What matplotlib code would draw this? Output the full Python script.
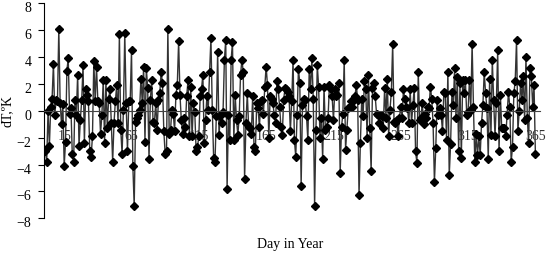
import numpy as np
import matplotlib
matplotlib.use("Agg")
import matplotlib.pyplot as plt
import matplotlib.transforms as mtransforms

# daily temperature deviation dT (K), day 1..365
seg_a = [-3.0, -3.8, 0.0, -2.6, 0.3, 0.9, 3.5, -0.3, 0.8, 0.7, 6.1, 0.6, -1.0, 0.5,
         -4.1, -2.3, 3.0, 3.9, -0.2, 0.2, -3.2, -3.8, 0.8, -0.3, 2.7, -2.6, -0.7, 0.8,
         3.4, -2.4, 1.6, 1.2, 0.7, -3.0, -3.4, -1.9, 3.7, 0.7, 3.3]
seg_b = [0.7, 0.6, -1.7, -0.3, 2.3, -2.4, 2.3, -1.3, 0.9, 1.6, -0.9, -3.8, -0.9, 0.7,
         1.9, -0.9, 5.7, -1.4, -3.2, 0.1, 5.8, 0.6, -3.0, 0.7, 0.7, 4.5, -4.1, -7.1,
         -0.8, -0.5, -0.3, 0.1, 2.4, 0.6, 3.3, -2.3, 3.2, 1.7, -3.6, 0.8, 2.3, -0.8,
         -0.9, 0.6, -1.4, 0.8, 1.3, 2.9, 2.1, -1.5, -3.2, -3.0, 6.1, -1.7, -1.4, 0.1,
         -0.2, -1.5, 1.2, 1.9, 5.2, 1.2, -0.7, -1.7, -0.5, -1.2, 1.1, 2.3, -1.9, 1.8]
seg_c = [-1.9, 0.6, -0.1, -3.0, -2.7, -1.9, 1.1, 1.6, 2.7, -2.4, -0.7, 1.1, 0.1, 2.9,
         5.4, 0.1, -3.5, -3.8, -0.4, 4.4, -1.8, -0.4, -0.9, -0.05, 3.8, 5.3, -5.8, -0.3,
         -2.2, 3.8, 5.1, -2.2, 1.2, -0.7, -1.8, -0.4, 2.7, 3.8, 2.9, -5.1, -0.9, 1.3,
         -1.2, -1.3, -1.7, 1.1, -2.7, -3.0, 0.6, 0.2, -1.2, 0.7, 0.8, -0.2, 1.8, 3.3,
         1.9, -2.0, 1.1, 0.9, 0.6, -0.3, -0.9, 2.2, 1.6, 0.3, -1.2]
seg_d = [-1.8, 0.8, 1.7, 1.6, 1.4, 1.1, -1.5, 0.7, 3.8, -2.2, -3.4, -0.3, 3.1, 2.1,
         -5.6, 0.4, 0.9, 0.8, -0.4, -2.2, 3.1, 1.6, 3.9, 0.9, -7.1, -1.4, 3.4, 1.8,
         -2.0, -0.5, -3.6, 1.8, -1.4, -1.2, -0.5, 1.9, 1.6, 1.1, -0.7, 1.6, 1.1, 1.2,
         2.1, -4.6, -1.2, -0.2, 3.8, -2.9, -1.4, 0.2, 0.3, 0.7, 0.3, 0.8, 1.1, 1.9,
         0.8, -6.3, -2.4, 0.9, -0.4, 2.2, 1.6, -2.0, 2.7, -1.3, -4.5]
seg_e = [1.7, 2.1, 1.1, -0.2, -0.3, -0.9, -0.3, -0.4, -1.3, 1.7, -0.5, 2.4, -1.9, 0.1,
         1.4, 5.0, -0.8, -0.9, -0.7, -1.9, -0.5, 0.3, -0.5, 1.6, 0.9, 0.3, 0.2, -0.9,
         1.6, -0.9, 0.4, 1.7, -3.0, -3.9, 2.9, -0.7, -0.5, 0.6, -1.0, -0.2, -0.5, 0.3,
         0.2, 1.8, 0.9, -0.9, -5.3, -2.8, 0.8, -0.3, 0.2, -0.3, -1.5, 1.4, 1.3, -2.2,
         2.9, -4.8, -2.5, 1.4, 0.4, 3.2, -0.5, 2.5]
seg_f = [-3.0, 2.1, -3.5, 2.3, 1.3, 2.3, -0.3, -0.05, 2.3, 0.1, 5.0, 0.3, -3.8, -1.7,
         -3.3, -1.9, -3.3, -0.9, 0.4, 2.9, 1.3, 0.2, -3.6, 2.4, -1.8, 3.8, 0.8, -1.9,
         0.6, 4.5, -3.0, 1.2, -1.3, -1.3, -1.3, -1.9, -0.3, 1.4, 0.3, -3.8, -2.7, 1.3,
         2.2, 5.3, -1.5, 0.0, 2.1, 0.8, 2.6, -0.7, 4.0, -0.5, -2.4, 3.2, 2.6, 0.3,
         1.9, -3.2]

dT = seg_a + seg_b + seg_c + seg_d + seg_e + seg_f
days = np.arange(1, len(dT) + 1)

x_ticks = [15, 65, 115, 165, 215, 265, 315, 365]
y_ticks = [-8, -6, -4, -2, 0, 2, 4, 6, 8]

plt.rcParams['font.family'] = ['Liberation Serif', 'DejaVu Serif']

fig = plt.figure(figsize=(5.5, 2.59), dpi=100)
ax = fig.add_axes([0.08, 0.157, 0.902, 0.83])

ax.plot(days, dT, color='#333333', lw=1.0, marker='D', ms=3.6,
        mfc='black', mec='black')

ax.set_xlim(0, 368.5)
ax.set_ylim(-8, 8)
ax.set_yticks(y_ticks)
ax.set_yticklabels([str(v).replace('-', '\u2212') for v in y_ticks])
ax.set_xticks(x_ticks)

ax.spines['top'].set_visible(False)
ax.spines['right'].set_visible(False)
ax.spines['bottom'].set_position(('data', 0))
ax.spines['bottom'].set_color('#444444')
ax.spines['bottom'].set_linewidth(0.8)
ax.spines['left'].set_linewidth(0.8)

ax.tick_params(axis='y', direction='out', length=4, width=0.8, labelsize=10, pad=5)
ax.tick_params(axis='x', length=0, labelsize=10, pad=14, labelcolor='#333333')

# y labels sit a little below their ticks in the original
shift = mtransforms.ScaledTranslation(0, -4 / 100, fig.dpi_scale_trans)
for lab in ax.get_yticklabels():
    lab.set_transform(lab.get_transform() + shift)

ax.set_ylabel('dT,ºK', fontsize=10, labelpad=2)
fig.text(0.527, 0.055, 'Day in Year', ha='center', va='center', fontsize=10)

fig.savefig('out.png', dpi=100)
